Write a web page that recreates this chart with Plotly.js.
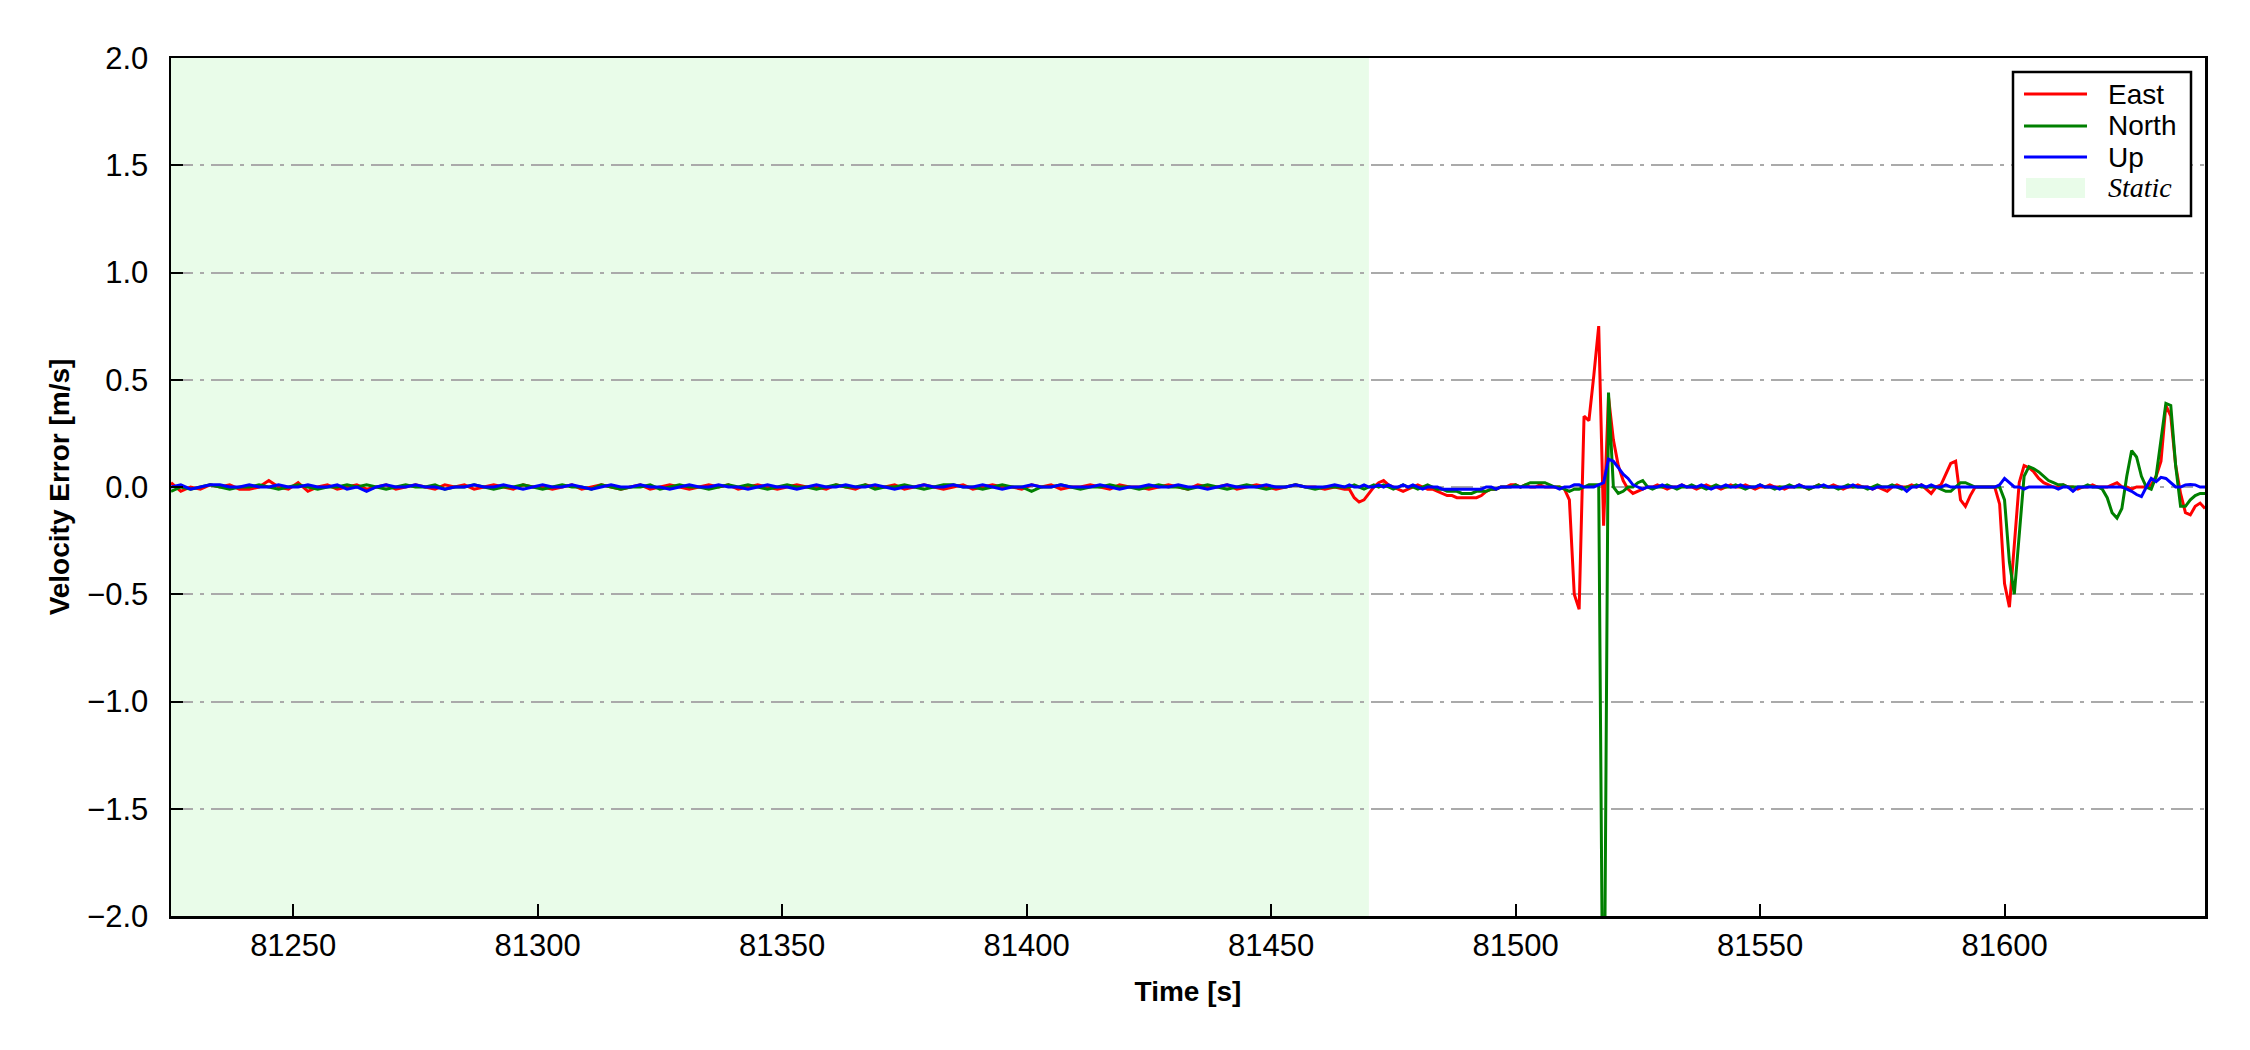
<!DOCTYPE html>
<html>
<head>
<meta charset="utf-8">
<script src="https://cdn.plot.ly/plotly-3.0.1.min.js"></script>
<style>html,body{margin:0;padding:0;background:#fff;}#chart{width:2250px;height:1050px;}</style>
</head>
<body>
<div id="chart"></div>
<script>
// Time stamps [s]: 2 s steps while static, 1 s steps afterwards
const time = [
81225,81227,81229,81231,81233,81235,81237,81239,81241,81243,
81245,81247,81249,81251,81253,81255,81257,81259,81261,81263,
81265,81267,81269,81271,81273,81275,81277,81279,81281,81283,
81285,81287,81289,81291,81293,81295,81297,81299,81301,81303,
81305,81307,81309,81311,81313,81315,81317,81319,81321,81323,
81325,81327,81329,81331,81333,81335,81337,81339,81341,81343,
81345,81347,81349,81351,81353,81355,81357,81359,81361,81363,
81365,81367,81369,81371,81373,81375,81377,81379,81381,81383,
81385,81387,81389,81391,81393,81395,81397,81399,81401,81403,
81405,81407,81409,81411,81413,81415,81417,81419,81421,81423,
81425,81427,81429,81431,81433,81435,81437,81439,81441,81443,
81445,81447,81449,81451,81453,81455,81457,81459,81461,81463,
81465,
81466,81467,81468,81469,81470,81471,81472,81473,81474,81475,
81476,81477,81478,81479,81480,81481,81482,81483,81484,81485,
81486,81487,81488,81489,81490,81491,81492,81493,81494,81495,
81496,81497,81498,81499,81500,81501,81502,81503,81504,81505,
81506,81507,81508,81509,81510,81511,81512,81513,81514,81515,
81516,81517,81518,81519,81520,81521,81522,81523,81524,81525,
81526,81527,81528,81529,81530,81531,81532,81533,81534,81535,
81536,81537,81538,81539,81540,81541,81542,81543,81544,81545,
81546,81547,81548,81549,81550,81551,81552,81553,81554,81555,
81556,81557,81558,81559,81560,81561,81562,81563,81564,81565,
81566,81567,81568,81569,81570,81571,81572,81573,81574,81575,
81576,81577,81578,81579,81580,81581,81582,81583,81584,81585,
81586,81587,81588,81589,81590,81591,81592,81593,81594,81595,
81596,81597,81598,81599,81600,81601,81602,81603,81604,81605,
81606,81607,81608,81609,81610,81611,81612,81613,81614,81615,
81616,81617,81618,81619,81620,81621,81622,81623,81624,81625,
81626,81627,81628,81629,81630,81631,81632,81633,81634,81635,
81636,81637,81638,81639,81640,81641
];

const east = [
0.02,-0.02,0.00,-0.01,0.01,0.00,0.01,-0.01,-0.01,0.00,
0.03,0.00,-0.01,0.02,-0.02,0.00,0.01,-0.01,0.00,0.01,
-0.01,0.00,0.01,-0.01,0.00,0.01,0.00,-0.01,0.01,0.00,
0.01,-0.01,0.00,0.01,0.00,-0.01,0.01,0.00,0.00,-0.01,
0.00,0.01,-0.01,0.00,0.01,0.00,-0.01,0.00,0.01,-0.01,
0.00,0.01,0.00,-0.01,0.00,0.01,0.00,0.01,-0.01,0.00,
0.01,0.00,-0.01,0.00,0.01,0.00,0.00,-0.01,0.01,0.00,
-0.01,0.01,0.00,0.00,0.01,-0.01,0.00,0.01,0.00,-0.01,
0.00,0.01,-0.01,0.00,0.01,0.00,0.00,-0.01,0.01,0.00,
0.01,-0.01,0.00,0.00,0.01,0.00,-0.01,0.01,0.00,0.00,
-0.01,0.00,0.01,0.00,-0.01,0.01,0.00,0.00,0.01,-0.01,
0.00,0.01,0.00,-0.01,0.00,0.01,0.00,0.00,-0.01,0.00,
-0.01,
-0.01,-0.05,-0.07,-0.06,-0.03,0.00,0.02,0.03,0.01,0.00,
-0.01,-0.02,-0.01,0.00,0.01,0.00,-0.01,-0.01,-0.02,-0.03,
-0.04,-0.04,-0.05,-0.05,-0.05,-0.05,-0.05,-0.04,-0.02,-0.01,
-0.01,0.00,0.00,0.01,0.01,0.00,0.01,0.00,0.00,0.01,
0.00,0.00,0.00,0.00,-0.01,-0.06,-0.50,-0.57,0.33,0.31,
0.52,0.75,-0.18,0.42,0.22,0.10,0.03,-0.01,-0.03,-0.02,
-0.01,0.00,0.00,0.01,0.00,-0.01,0.00,0.00,0.01,0.00,
0.00,-0.01,0.00,0.01,0.00,0.00,-0.01,0.00,0.01,0.00,
0.00,0.01,0.00,-0.01,0.00,0.00,0.01,0.00,0.00,-0.01,
0.00,0.00,0.01,0.00,-0.01,0.00,0.01,0.00,0.00,0.01,
0.00,-0.01,0.00,0.00,0.01,0.00,0.00,-0.01,0.00,-0.01,
-0.02,0.00,0.01,0.00,0.00,0.01,0.00,0.01,-0.01,-0.03,
0.00,0.01,0.06,0.11,0.12,-0.06,-0.09,-0.04,0.00,0.00,
0.00,0.00,0.00,-0.08,-0.45,-0.56,-0.27,0.02,0.10,0.09,
0.07,0.04,0.02,0.01,0.00,0.00,0.01,0.00,0.00,-0.01,
0.00,0.00,0.01,0.00,0.00,0.00,0.01,0.02,0.00,0.00,
-0.01,0.00,0.00,0.00,0.01,0.05,0.12,0.38,0.33,0.10,
-0.03,-0.12,-0.13,-0.09,-0.075,-0.10
];

const north = [
-0.02,0.00,-0.01,0.00,0.01,0.00,-0.01,0.00,0.00,0.01,
0.00,-0.01,0.00,0.01,0.00,-0.01,0.00,0.00,0.01,0.00,
0.01,0.00,-0.01,0.00,0.01,0.00,0.00,0.01,-0.01,0.00,
0.00,0.01,0.00,-0.01,0.00,0.00,0.01,0.00,-0.01,0.00,
0.01,0.00,0.00,-0.01,0.01,0.00,-0.01,0.00,0.00,0.01,
-0.01,0.00,0.01,0.00,0.00,-0.01,0.00,0.01,0.00,0.01,
0.00,-0.01,0.00,0.01,0.00,0.00,-0.01,0.00,0.01,0.00,
0.00,0.01,-0.01,0.00,0.00,0.01,0.00,-0.01,0.00,0.01,
0.01,0.00,0.00,-0.01,0.00,0.01,0.00,0.00,-0.02,0.00,
0.00,0.01,0.00,-0.01,0.00,0.00,0.01,0.00,0.00,-0.01,
0.00,0.01,0.00,0.00,-0.01,0.00,0.01,0.00,-0.01,0.00,
0.01,0.00,-0.01,0.00,0.00,0.01,0.00,-0.01,0.00,0.00,
0.00,
0.00,0.01,0.00,-0.01,0.00,0.01,0.00,0.01,0.00,-0.01,
0.00,0.01,0.00,0.00,-0.01,0.00,0.01,0.00,-0.01,-0.01,
-0.02,-0.02,-0.02,-0.03,-0.03,-0.03,-0.02,-0.02,-0.02,-0.01,
-0.01,0.00,0.00,0.00,0.01,0.00,0.01,0.02,0.02,0.02,
0.02,0.01,0.00,0.00,-0.01,-0.02,-0.01,-0.01,0.00,0.01,
0.01,0.01,-3.00,0.44,0.00,-0.03,-0.02,0.00,0.00,0.02,
0.03,0.00,-0.01,0.00,0.00,0.01,0.00,-0.01,0.00,0.00,
0.01,0.00,0.00,-0.01,0.00,0.01,0.00,0.00,0.00,0.01,
0.00,-0.01,0.00,0.00,0.01,0.00,0.00,-0.01,0.00,0.00,
0.01,0.00,0.00,0.00,-0.01,0.00,0.01,0.00,0.00,0.00,
-0.01,0.00,0.01,0.00,0.00,0.00,-0.01,0.00,0.01,0.00,
0.00,0.01,0.00,-0.01,0.00,0.00,0.01,0.00,0.00,0.00,
0.00,-0.01,-0.02,-0.02,0.00,0.02,0.02,0.01,0.00,0.00,
0.00,0.00,0.00,0.00,-0.06,-0.35,-0.50,-0.22,0.05,0.095,
0.085,0.07,0.05,0.03,0.02,0.01,0.01,0.00,0.00,0.00,
0.00,0.01,0.00,0.00,-0.01,-0.05,-0.12,-0.145,-0.10,0.05,
0.17,0.14,0.05,0.00,-0.01,0.05,0.22,0.39,0.38,0.10,
-0.09,-0.09,-0.06,-0.04,-0.03,-0.03
];

const up = [
0.00,0.01,-0.01,0.00,0.01,0.01,0.00,0.00,0.01,0.00,
0.00,0.01,0.00,0.00,0.01,0.00,0.00,0.01,-0.01,0.00,
-0.02,0.00,0.01,0.00,0.00,0.01,0.00,0.00,-0.01,0.00,
0.00,0.01,0.00,0.00,0.01,0.00,-0.01,0.00,0.01,0.00,
0.00,0.01,0.00,-0.01,0.00,0.01,0.00,0.00,0.01,0.00,
0.00,-0.01,0.00,0.01,0.00,0.00,0.01,0.00,0.00,-0.01,
0.00,0.01,0.00,0.00,-0.01,0.00,0.01,0.00,0.00,0.01,
0.00,0.00,0.01,0.00,-0.01,0.00,0.00,0.01,0.00,0.00,
0.01,0.00,0.00,0.01,0.00,-0.01,0.00,0.00,0.01,0.00,
0.00,0.01,0.00,0.00,0.00,0.01,0.00,-0.01,0.00,0.00,
0.01,0.00,0.00,0.01,0.00,0.00,-0.01,0.00,0.01,0.00,
0.00,0.00,0.01,0.00,0.00,0.01,0.00,0.00,0.00,0.01,
0.00,
0.01,0.00,0.00,0.01,0.00,0.00,0.01,0.00,0.01,0.00,
0.00,0.01,0.00,0.01,0.00,-0.01,0.00,0.00,0.00,-0.01,
-0.01,-0.01,-0.01,-0.01,-0.01,-0.01,-0.01,-0.01,0.00,0.00,
-0.01,0.00,0.00,0.00,0.00,0.00,0.00,0.00,0.00,0.00,
0.00,0.00,0.00,-0.01,0.00,0.00,0.01,0.01,0.00,0.00,
0.00,0.01,0.02,0.13,0.12,0.09,0.06,0.04,0.01,0.00,
-0.01,0.00,0.00,0.00,0.01,0.00,0.00,0.00,0.01,0.00,
0.00,0.00,0.01,0.00,-0.01,0.00,0.00,0.01,0.00,0.00,
0.01,0.00,0.00,0.00,0.01,0.00,0.00,0.00,-0.01,0.00,
0.00,0.00,0.01,0.00,0.00,0.00,0.00,0.01,0.00,0.00,
0.00,0.00,0.00,0.01,0.00,0.00,0.00,-0.01,0.00,0.00,
0.00,0.00,0.00,0.00,-0.02,0.00,0.00,0.01,0.00,0.01,
0.00,0.00,0.01,0.00,0.00,0.00,0.00,0.00,0.00,0.00,
0.00,0.00,0.00,0.01,0.04,0.02,0.00,0.00,-0.01,0.00,
0.00,0.00,0.00,0.00,0.00,-0.01,0.00,0.00,-0.02,0.00,
0.00,0.00,0.00,0.00,0.00,0.00,0.00,0.00,0.00,-0.01,
-0.02,-0.035,-0.045,0.00,0.04,0.025,0.045,0.04,0.02,0.00,
0.00,0.01,0.012,0.01,0.00,0.00
];

const seriesNames = ['East', 'North', 'Up'];
const staticLabel = 'Static';
const staticInterval = [81225, 81470];
const xRange = [81225, 81641];
const yRange = [-2, 2];
const xTicks = [81250, 81300, 81350, 81400, 81450, 81500, 81550, 81600];
const yTicks = [-2.0, -1.5, -1.0, -0.5, 0.0, 0.5, 1.0, 1.5, 2.0];

const FONT = 'Liberation Sans, Arial, sans-serif';
const SERIF = 'Liberation Serif, Times New Roman, serif';
const colors = ['#ff0000', '#008000', '#0000ff'];
const staticColor = 'rgb(233,252,233)';

// plot-area geometry in pixels
const W = 2250, H = 1050;
const M = {l: 171, r: 45, t: 58, b: 134};
const PW = W - M.l - M.r, PH = H - M.t - M.b;
const px = X => (X - M.l) / PW;          // pixel x -> paper x
const py = Y => (H - M.b - Y) / PH;       // pixel y -> paper y

const values = [east, north, up];
const traces = values.map((v, i) => ({
  type: 'scatter', mode: 'lines', x: time, y: v, name: seriesNames[i],
  line: {color: colors[i], width: 3}, showlegend: false
}));

// custom legend (matplotlib style: long line samples)
const legBox = {x0: 2013, x1: 2191, y0: 72, y1: 216};
const rowY = [94, 126, 157, 188];
const shapes = [{
  type: 'rect', xref: 'x', yref: 'y', layer: 'below',
  x0: staticInterval[0], x1: staticInterval[1], y0: yRange[0], y1: yRange[1],
  fillcolor: staticColor, line: {width: 0}
}, {
  type: 'rect', xref: 'paper', yref: 'paper', layer: 'above',
  x0: px(legBox.x0), x1: px(legBox.x1), y0: py(legBox.y1), y1: py(legBox.y0),
  fillcolor: '#ffffff', line: {color: '#000000', width: 2.5}
}];
const annotations = [];
seriesNames.forEach((n, i) => {
  shapes.push({
    type: 'line', xref: 'paper', yref: 'paper', layer: 'above',
    x0: px(2024), x1: px(2087), y0: py(rowY[i]), y1: py(rowY[i]),
    line: {color: colors[i], width: 3}
  });
  annotations.push({
    xref: 'paper', yref: 'paper', x: px(2106), y: py(rowY[i]),
    xanchor: 'left', yanchor: 'middle', showarrow: false, text: n,
    font: {family: FONT, size: 28, color: '#000'}
  });
});
shapes.push({
  type: 'rect', xref: 'paper', yref: 'paper', layer: 'above',
  x0: px(2026), x1: px(2085), y0: py(rowY[3] + 10), y1: py(rowY[3] - 10),
  fillcolor: staticColor, line: {width: 0}
});
annotations.push({
  xref: 'paper', yref: 'paper', x: px(2106), y: py(rowY[3]),
  xanchor: 'left', yanchor: 'middle', showarrow: false, text: '<i>' + staticLabel + '</i>',
  font: {family: SERIF, size: 28, color: '#000'}
});

const layout = {
  width: W, height: H,
  margin: {l: M.l, r: M.r, t: M.t, b: M.b, pad: 0},
  paper_bgcolor: '#ffffff', plot_bgcolor: '#ffffff',
  font: {family: FONT, color: '#000000', size: 30},
  showlegend: false,
  xaxis: {
    range: xRange, tickvals: xTicks, ticktext: xTicks.map(String),
    ticks: 'inside', ticklen: 12, tickwidth: 2, tickcolor: '#000',
    showline: true, mirror: true, linecolor: '#000', linewidth: 2.5,
    showgrid: false, zeroline: false,
    tickfont: {family: FONT, size: 31, color: '#000'},
    title: {text: '<b>Time [s]</b>', font: {family: FONT, size: 28, color: '#000'}, standoff: 20}
  },
  yaxis: {
    range: yRange, tickvals: yTicks, tickformat: '.1f',
    ticks: 'inside', ticklen: 12, tickwidth: 2, tickcolor: '#000',
    showline: true, mirror: true, linecolor: '#000', linewidth: 2.5,
    showgrid: true, gridcolor: '#aaaaaa', gridwidth: 2, griddash: '22px,7px,4px,7px',
    zeroline: false, ticklabelstandoff: 14,
    tickfont: {family: FONT, size: 31, color: '#000'},
    title: {text: '<b>Velocity Error [m/s]</b>', font: {family: FONT, size: 28, color: '#000'}, standoff: 10}
  },
  shapes: shapes,
  annotations: annotations
};

Plotly.newPlot('chart', traces, layout, {displayModeBar: false, staticPlot: true});
</script>
</body>
</html>
